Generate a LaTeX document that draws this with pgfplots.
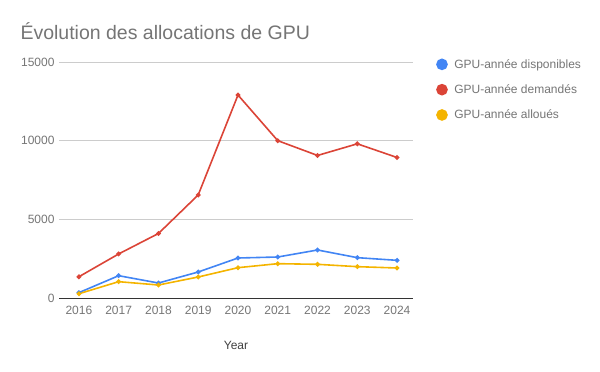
\documentclass[border=0pt]{standalone}
\usepackage{fontspec}
\setmainfont{Liberation Sans}
\usepackage{pgfplots}
\pgfplotsset{compat=1.18}
\definecolor{gblue}{HTML}{4285F4}
\definecolor{gred}{HTML}{DB4437}
\definecolor{gyellow}{HTML}{F4B400}
\definecolor{gtext}{HTML}{757575}
\definecolor{ggrid}{HTML}{CCCCCC}
\begin{document}
\begin{tikzpicture}[x=1bp,y=1bp]
\path (0,0) rectangle (600,371);
\node[anchor=west, text=gtext, font=\fontsize{19.5bp}{22bp}\selectfont] at (17,340) {Évolution des allocations de GPU};
\begin{axis}[
  at={(59bp,73bp)}, anchor=south west,
  scale only axis, width=354bp, height=236bp,
  xmin=2015.5, xmax=2024.4,
  ymin=0, ymax=15000,
  xtick={2016,...,2024},
  ytick={0,5000,10000,15000},
  scaled y ticks=false,
  /pgf/number format/.cd, assume math mode=true, 1000 sep={}, fixed, /pgfplots/.cd,
  xticklabel style={font=\fontsize{12bp}{14bp}\selectfont, text=gtext, yshift=-5bp},
  yticklabel style={font=\fontsize{12bp}{14bp}\selectfont, text=gtext, xshift=-1bp},
  tick style={draw=none},
  axis x line*=bottom, axis y line*=left,
  x axis line style={draw=black!80, line width=1bp, -},
  y axis line style={draw=none},
  ymajorgrids, grid style={ggrid, line width=0.8bp},
  xlabel={Year}, xlabel style={font=\fontsize{12bp}{14bp}\selectfont, text=black!75, yshift=-19bp},
  legend cell align=left,
  legend style={draw=none, fill=none, at={(1,1)}, anchor=north west, xshift=20bp, yshift=7bp,
    font=\fontsize{12bp}{14bp}\selectfont, text=gtext, row sep=11bp,
    nodes={inner xsep=6.5bp}},
  legend image code/.code={\fill (4bp,0bp) circle (5bp);},
  every axis plot/.append style={line width=1.6bp, mark=*, mark size=1.5bp},
  clip=false,
]
\addplot[gblue, mark options={fill=gblue}] coordinates {(2016,340) (2017,1418) (2018,953) (2019,1653) (2020,2542) (2021,2606) (2022,3051) (2023,2564) (2024,2394)};
\addlegendentry{GPU-année disponibles}
\addplot[gred, mark options={fill=gred}] coordinates {(2016,1350) (2017,2800) (2018,4100) (2019,6550) (2020,12900) (2021,10000) (2022,9060) (2023,9800) (2024,8930)};
\addlegendentry{GPU-année demandés}
\addplot[gyellow, mark options={fill=gyellow}] coordinates {(2016,270) (2017,1038) (2018,826) (2019,1335) (2020,1928) (2021,2182) (2022,2140) (2023,1992) (2024,1907)};
\addlegendentry{GPU-année alloués}
\end{axis}
\end{tikzpicture}
\end{document}
